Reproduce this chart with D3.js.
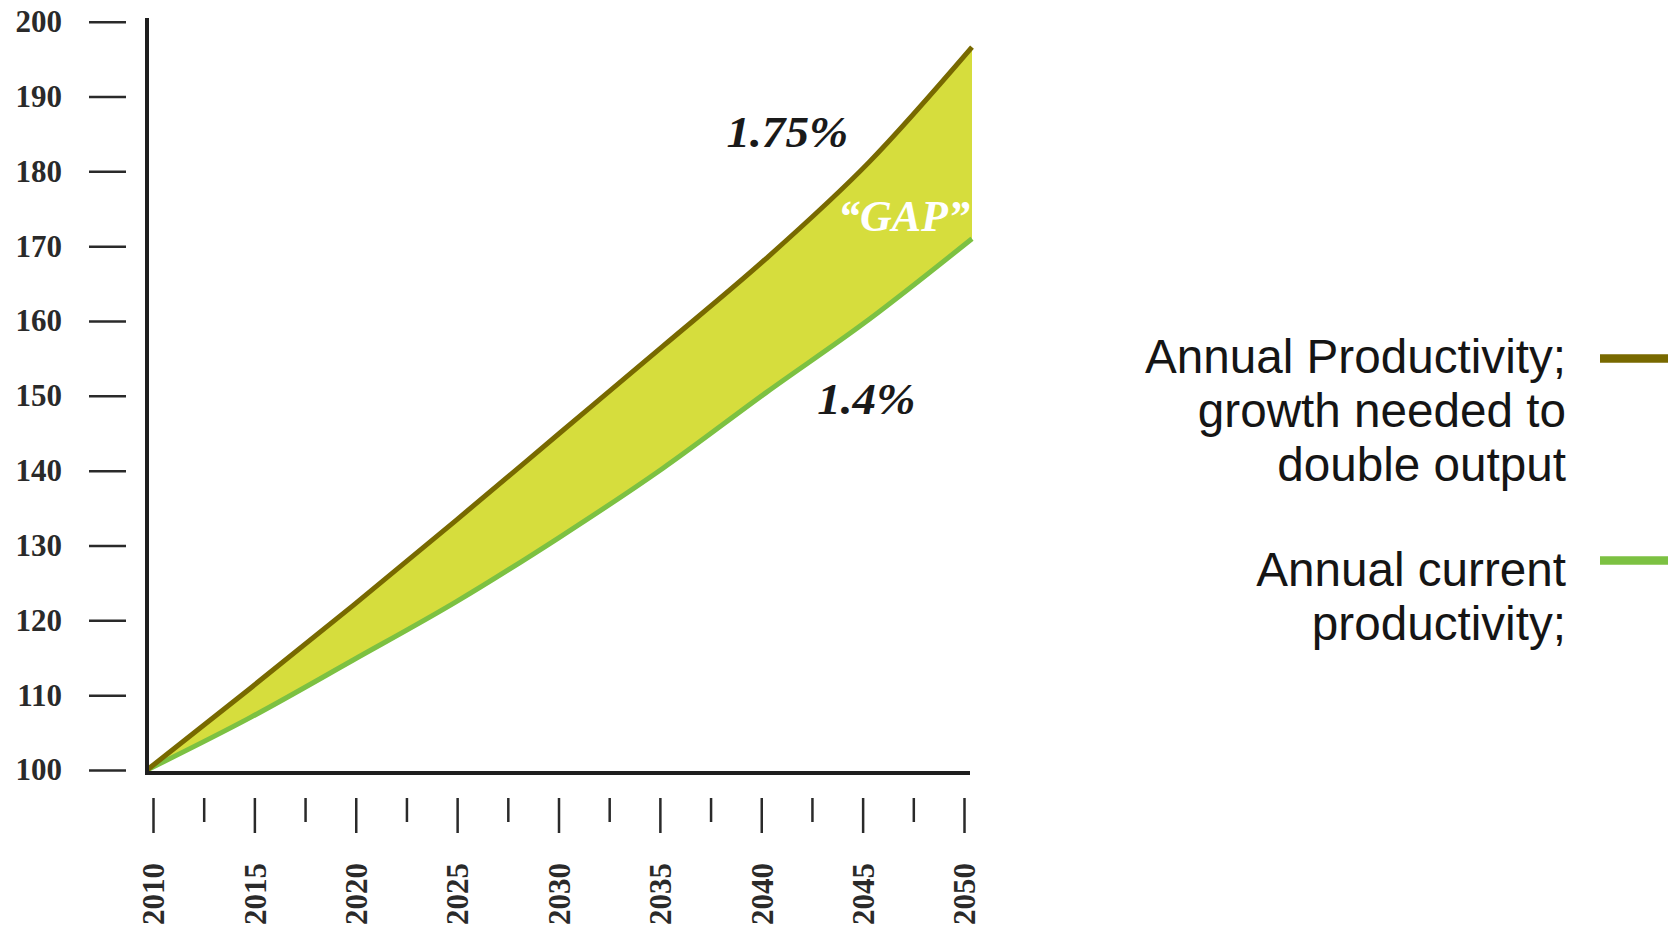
<!DOCTYPE html>
<html>
<head>
<meta charset="utf-8">
<script src="https://cdn.jsdelivr.net/npm/d3@7"></script>
<style>
  html, body { margin: 0; padding: 0; background: #fff; }
  svg { display: block; }
</style>
</head>
<body>
<svg id="chart" width="1668" height="933"></svg>
<script>
// Productivity index (2010 = 100)
const years = [2010, 2015, 2020, 2025, 2030, 2035, 2040, 2045, 2050];
const neededGrowth = [100, 110.9, 122, 133.4, 145, 156.6, 168.3, 181.2, 196.6];   // 1.75% a year
const currentGrowth = [100, 107, 114.7, 122.5, 131.1, 140.3, 150.4, 160.2, 171];   // 1.4% a year

const yTickValues = [100, 110, 120, 130, 140, 150, 160, 170, 180, 190, 200];
const xMajorTicks = [2010, 2015, 2020, 2025, 2030, 2035, 2040, 2045, 2050];
const xMinorTicks = [2012.5, 2017.5, 2022.5, 2027.5, 2032.5, 2037.5, 2042.5, 2047.5];

const legendItems = [
  { lines: ["Annual Productivity;", "growth needed to", "double output"], color: "#786900" },
  { lines: ["Annual current", "productivity;"], color: "#7cc142" }
];

const rateLabels = [
  { text: "1.75%", year: 2038.1, value: 183.3, color: "#1a1a1a" },
  { text: "1.4%", year: 2042.5, value: 147.6, color: "#1a1a1a" },
  { text: "\u201CGAP\u201D", year: 2043.5, value: 172.0, color: "#ffffff" }
];

const svg = d3.select("#chart");

const x = d3.scaleLinear().domain([2010, 2050]).range([147, 972]);
const xTickScale = d3.scaleLinear().domain([2010, 2050]).range([153, 964]);
const y = d3.scaleLinear().domain([100, 200]).range([770, 21.7]);

const data = years.map((yr, i) => ({ year: yr, needed: neededGrowth[i], current: currentGrowth[i] }));

// Gap band between the two growth paths
const area = d3.area()
  .x(d => x(d.year))
  .y0(d => y(d.current))
  .y1(d => y(d.needed))
  .curve(d3.curveMonotoneX);

svg.append("path")
  .datum(data)
  .attr("d", area)
  .attr("fill", "#d6dd3d");

const lineNeeded = d3.line().x(d => x(d.year)).y(d => y(d.needed)).curve(d3.curveMonotoneX);
const lineCurrent = d3.line().x(d => x(d.year)).y(d => y(d.current)).curve(d3.curveMonotoneX);

svg.append("path").datum(data).attr("d", lineCurrent)
  .attr("fill", "none").attr("stroke", "#7cc142").attr("stroke-width", 5);
svg.append("path").datum(data).attr("d", lineNeeded)
  .attr("fill", "none").attr("stroke", "#786900").attr("stroke-width", 5);

// Axis lines
svg.append("line")
  .attr("x1", 147).attr("x2", 147).attr("y1", 18).attr("y2", 775)
  .attr("stroke", "#1e1e1e").attr("stroke-width", 4);
svg.append("line")
  .attr("x1", 145).attr("x2", 970).attr("y1", 773).attr("y2", 773)
  .attr("stroke", "#1e1e1e").attr("stroke-width", 4);

const tickFont = "'Liberation Serif', 'Times New Roman', serif";

// Y axis ticks and labels
const yAxis = d3.axisLeft(y).tickValues(yTickValues).tickSize(37).tickPadding(27).tickFormat(d3.format("d"));
const gy = svg.append("g").attr("transform", "translate(126,0)").call(yAxis);
gy.select(".domain").remove();
gy.selectAll(".tick line").attr("stroke", "#2a2a2a").attr("stroke-width", 2.5);
gy.selectAll(".tick text")
  .attr("font-family", tickFont).attr("font-weight", "bold")
  .attr("font-size", 31).attr("fill", "#2a2a2a");

// X axis: major ticks with labels, minor ticks between
const xAxis = d3.axisBottom(xTickScale).tickValues(xMajorTicks).tickSize(35).tickFormat(d3.format("d"));
const gx = svg.append("g").attr("transform", "translate(0,798)").call(xAxis);
gx.select(".domain").remove();
gx.selectAll(".tick line").attr("stroke", "#2a2a2a").attr("stroke-width", 2.5);
gx.selectAll(".tick text")
  .attr("font-family", tickFont).attr("font-weight", "bold")
  .attr("font-size", 31).attr("fill", "#2a2a2a")
  .attr("text-anchor", "end")
  .attr("transform", "translate(0,65) rotate(-90)")
  .attr("x", 0).attr("y", 0).attr("dy", "0.35em");

const xMinor = d3.axisBottom(xTickScale).tickValues(xMinorTicks).tickSize(24).tickFormat("");
const gxm = svg.append("g").attr("transform", "translate(0,798)").call(xMinor);
gxm.select(".domain").remove();
gxm.selectAll(".tick line").attr("stroke", "#2a2a2a").attr("stroke-width", 2.5);

// Growth-rate annotations, slightly widened
svg.selectAll("text.rate")
  .data(rateLabels)
  .join("text")
  .attr("class", "rate")
  .attr("x", d => x(d.year))
  .attr("y", d => y(d.value))
  .attr("font-family", tickFont)
  .attr("font-style", "italic")
  .attr("font-weight", "bold")
  .attr("font-size", 44)
  .attr("fill", d => d.color)
  .text(d => d.text)
  .each(function (d) {
    if (d.color === "#ffffff") return;
    const w = this.getComputedTextLength();
    d3.select(this).attr("textLength", w * 1.07).attr("lengthAdjust", "spacingAndGlyphs");
  });

// Legend: right-aligned, condensed text blocks with line swatches
const legendRight = 1566;
const legendFont = "'Liberation Sans', Arial, sans-serif";
const legendSize = 48;
const legendLeading = 54;
const legendFirstBaseline = [373, 586];
const swatchY = [358.5, 560.5];
const firstLineWidth = 421;

// common horizontal squeeze, taken from the widest line
const probe = svg.append("text")
  .attr("font-family", legendFont).attr("font-size", legendSize)
  .text(legendItems[0].lines[0]);
const squeeze = firstLineWidth / probe.node().getComputedTextLength();
probe.remove();

legendItems.forEach((item, k) => {
  item.lines.forEach((ln, i) => {
    const t = svg.append("text")
      .attr("x", legendRight)
      .attr("y", legendFirstBaseline[k] + i * legendLeading)
      .attr("text-anchor", "end")
      .attr("font-family", legendFont)
      .attr("font-size", legendSize)
      .attr("fill", "#151515")
      .text(ln);
    const w = t.node().getComputedTextLength();
    t.attr("textLength", w * squeeze).attr("lengthAdjust", "spacingAndGlyphs");
  });
  svg.append("line")
    .attr("x1", 1600).attr("x2", 1668)
    .attr("y1", swatchY[k]).attr("y2", swatchY[k])
    .attr("stroke", item.color).attr("stroke-width", 8.5);
});
</script>
</body>
</html>
